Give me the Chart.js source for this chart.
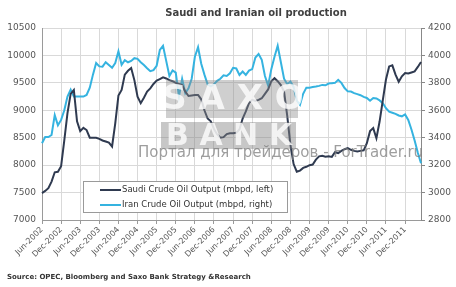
<!DOCTYPE html>
<html>
<head>
<meta charset="utf-8">
<script src="https://cdn.jsdelivr.net/npm/chart.js@4.4.1/dist/chart.umd.min.js"></script>
<style>
  html, body { margin: 0; padding: 0; background: #fff; }
  #wrap { width: 456px; height: 287px; position: relative; }
</style>
</head>
<body>
<div id="wrap"><canvas id="oil"></canvas></div>
<script>
// visible x tick labels, one every 6 months
const tickLabels = ['Jun-2002','Dec-2002','Jun-2003','Dec-2003','Jun-2004','Dec-2004','Jun-2005','Dec-2005',
  'Jun-2006','Dec-2006','Jun-2007','Dec-2007','Jun-2008','Dec-2008','Jun-2009','Dec-2009',
  'Jun-2010','Dec-2010','Jun-2011','Dec-2011'];

// monthly, Jun-2002 .. May-2012 (mbpd, thousands)
const saudi = [
  7490,7530,7580,7700,7870,7880,7980,8450,8950,9300,9370,8800,
  8620,8680,8640,8500,8500,8500,8480,8450,8430,8410,8340,8760,
  9270,9370,9650,9720,9770,9550,9250,9130,9230,9340,9400,9480,
  9540,9570,9600,9580,9550,9530,9500,9480,9460,9340,9260,9270,
  9280,9280,9200,9000,8850,8800,8660,8560,8500,8510,8565,8580,
  8580,8590,8650,8850,8980,9130,9190,9170,9190,9220,9300,9380,
  9530,9585,9530,9460,9340,8900,8370,8020,7880,7900,7950,7970,
  8000,8010,8100,8160,8170,8155,8160,8150,8235,8220,8260,8290,
  8310,8280,8260,8250,8260,8270,8400,8620,8675,8490,8795,9180,
  9560,9800,9820,9650,9520,9620,9680,9670,9690,9710,9790,9880
];
const iran = [
  3360,3405,3405,3420,3565,3490,3530,3600,3700,3750,3700,3700,
  3700,3700,3712,3765,3860,3945,3920,3918,3950,3930,3910,3945,
  4030,3932,3965,3950,3960,3980,3975,3950,3930,3907,3885,3893,
  3925,4040,4070,3960,3850,3890,3875,3700,3830,3725,3760,3830,
  3990,4060,3940,3860,3790,3775,3790,3815,3830,3855,3850,3870,
  3910,3905,3858,3883,3858,3889,3900,3985,4010,3968,3850,3780,
  3900,3990,4070,3950,3830,3790,3810,3770,3670,3640,3720,3765,
  3765,3770,3773,3778,3785,3782,3795,3798,3800,3822,3800,3762,
  3738,3737,3725,3718,3710,3698,3690,3670,3690,3686,3672,3652,
  3615,3590,3582,3574,3562,3556,3570,3530,3460,3380,3290,3214
];

const seriesNames = ['Saudi Crude Oil Output (mbpd, left)', 'Iran Crude Oil Output (mbpd, right)'];
const seriesColors = ['#2f3a50', '#35b3e0'];

// build month categories from the first tick label
const monNames = ['Jan','Feb','Mar','Apr','May','Jun','Jul','Aug','Sep','Oct','Nov','Dec'];
const months = [];
for (let k = 0; k < saudi.length; k++) {
  const m = 5 + k;
  months.push(monNames[m % 12] + '-' + (2002 + Math.floor(m / 12)));
}

const FONT = "'DejaVu Sans', Verdana, sans-serif";

const extras = {
  id: 'extras',
  afterDatasetsDraw(chart) {
    const c = chart.ctx;
    c.save();
    // watermark
    c.fillStyle = 'rgba(140,140,140,0.42)';
    c.fillRect(166, 80, 132, 38);
    c.fillStyle = 'rgba(130,130,130,0.45)';
    c.fillRect(161, 122, 135, 27);
    c.fillStyle = 'rgba(255,255,255,0.8)';
    c.font = "bold 34px " + FONT;
    c.textBaseline = 'middle';
    c.textAlign = 'center';
    c.fillText('S A X O', 233, 100);
    c.font = "bold 30px " + FONT;
    c.fillText('B A N K', 229, 137);
    c.fillStyle = 'rgba(125,125,125,0.75)';
    c.font = "15px " + FONT;
    c.textAlign = 'left';
    c.fillText('Портал для трейдеров - ForTrader.ru', 138, 153);
    c.restore();
  },
  afterDraw(chart) {
    const c = chart.ctx;
    c.save();
    // title
    c.fillStyle = '#404040';
    c.font = "bold 10px " + FONT;
    c.textAlign = 'center';
    c.textBaseline = 'middle';
    c.fillText('Saudi and Iranian oil production', 256, 13);
    // source
    c.fillStyle = '#333';
    c.font = "bold 7px " + FONT;
    c.textAlign = 'left';
    c.fillText('Source: OPEC, Bloomberg and Saxo Bank Strategy &Research', 7, 277);
    // legend box
    c.fillStyle = '#fff';
    c.fillRect(83.5, 181.5, 204, 31);
    c.strokeStyle = '#9a9a9a';
    c.lineWidth = 1;
    c.strokeRect(83.5, 181.5, 204, 31);
    c.font = "8.5px " + FONT;
    c.textBaseline = 'middle';
    seriesNames.forEach((name, k) => {
      const y = 190 + k * 15;
      c.strokeStyle = seriesColors[k];
      c.lineWidth = 2;
      c.beginPath();
      c.moveTo(100, y);
      c.lineTo(121, y);
      c.stroke();
      c.fillStyle = '#333';
      c.fillText(name, 122, y);
    });
    c.restore();
  }
};

new Chart(document.getElementById('oil'), {
  type: 'line',
  data: {
    labels: months,
    datasets: [
      { label: seriesNames[0], data: saudi, yAxisID: 'y', borderColor: seriesColors[0], borderWidth: 2, pointRadius: 0, tension: 0 },
      { label: seriesNames[1], data: iran, yAxisID: 'y1', borderColor: seriesColors[1], borderWidth: 2, pointRadius: 0, tension: 0 }
    ]
  },
  options: {
    responsive: true,
    maintainAspectRatio: false,
    animation: false,
    layout: { padding: { top: 28, bottom: 22, left: 0, right: 0 } },
    plugins: { legend: { display: false }, title: { display: false }, tooltip: { enabled: false } },
    scales: {
      x: {
        offset: false,
        grid: {
          color: ctx => (ctx.index % 6 === 0 ? '#d9d9d9' : 'rgba(0,0,0,0)'),
          tickColor: ctx => (ctx.index % 6 === 0 ? '#9a9a9a' : 'rgba(0,0,0,0)'),
          tickLength: 4
        },
        border: { color: '#9a9a9a' },
        ticks: {
          autoSkip: false, maxRotation: 45, minRotation: 45, padding: 1,
          color: '#555', font: { family: FONT, size: 8 },
          callback: (v, i) => (i % 6 === 0 ? tickLabels[i / 6] : '')
        },
        afterFit: s => { s.height = 45; }
      },
      y: {
        position: 'left', min: 7000, max: 10500,
        grid: { color: '#d9d9d9', drawTicks: false },
        border: { color: '#9a9a9a' },
        ticks: { stepSize: 500, padding: 6, color: '#555', font: { family: FONT, size: 9 }, callback: v => String(v) },
        afterFit: s => { s.width = 42; }
      },
      y1: {
        position: 'right', min: 2800, max: 4200,
        grid: { drawOnChartArea: false, color: '#888', tickLength: 4 },
        border: { color: '#888' },
        ticks: { stepSize: 200, padding: 3, color: '#555', font: { family: FONT, size: 9 }, callback: v => String(v) },
        afterFit: s => { s.width = 35; }
      }
    }
  },
  plugins: [extras]
});
</script>
</body>
</html>
